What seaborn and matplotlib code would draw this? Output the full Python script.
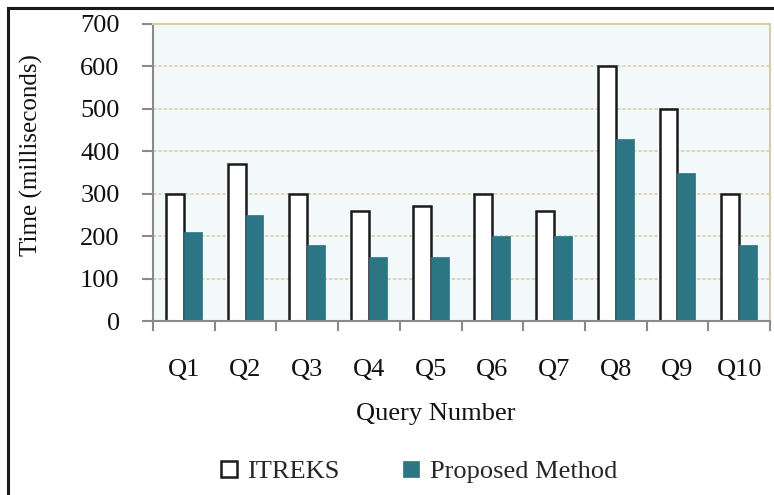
import matplotlib
matplotlib.use("Agg")
import matplotlib.pyplot as plt
from matplotlib.patches import Rectangle
from matplotlib.ticker import MultipleLocator, FixedLocator
import seaborn as sns
import pandas as pd

queries = ["Q1", "Q2", "Q3", "Q4", "Q5", "Q6", "Q7", "Q8", "Q9", "Q10"]
itreks = [300, 370, 300, 260, 270, 300, 260, 600, 500, 300]
proposed = [210, 250, 180, 150, 150, 200, 200, 430, 350, 180]
series = ["ITREKS", "Proposed Method"]

df = pd.DataFrame({
    "Query": queries * 2,
    "Time": itreks + proposed,
    "Method": [series[0]] * len(queries) + [series[1]] * len(queries),
})

sns.set_theme(style="white")
plt.rcParams["font.family"] = ["Liberation Serif", "DejaVu Serif"]

W, H = 774, 495
fig = plt.figure(figsize=(W / 100, H / 100), dpi=100)
ax = fig.add_axes([153 / W, 1 - 321 / H, 617 / W, 297 / H])
ax.set_facecolor("#F3F9FA")

teal = "#2B7585"
ink = "#1a1a1a"
sns.barplot(data=df, x="Query", y="Time", hue="Method", order=queries,
            hue_order=series, palette=["white", teal], width=0.58,
            gap=0, ax=ax, legend=True, saturation=1)

for bar in ax.patches:
    if abs(bar.get_facecolor()[0] - 1.0) < 1e-3 and bar.get_height() > 0:
        bar.set_edgecolor(ink)
        bar.set_linewidth(1.8)
    else:
        bar.set_edgecolor(teal)
        bar.set_linewidth(0.5)

ax.set_ylim(0, 700)
ax.set_xlim(-0.5, len(queries) - 0.5)
ax.yaxis.set_major_locator(MultipleLocator(100))
ax.grid(axis="y", color="#D6CFA6", linestyle=(0, (2, 1.2)), linewidth=1.2)
ax.set_axisbelow(True)

for side in ("top", "right"):
    ax.spines[side].set_visible(True)
    ax.spines[side].set_color("#D6CFA6")
    ax.spines[side].set_linewidth(1.5)
for side in ("left", "bottom"):
    ax.spines[side].set_color("#8a8a8a")
    ax.spines[side].set_linewidth(1.5)

fs = 19
ax.xaxis.set_minor_locator(FixedLocator([i - 0.5 for i in range(len(queries) + 1)]))
ax.tick_params(axis="x", which="major", length=0, pad=27, labelsize=fs,
               labelcolor="#111111")
ax.tick_params(axis="x", which="minor", bottom=True, length=7, width=1.5,
               color="#8a8a8a", direction="out")
ax.tick_params(axis="y", which="major", left=True, length=8, width=1.5,
               color="#8a8a8a", direction="out", pad=16, labelsize=fs,
               labelcolor="#111111")

ax.set_xlabel("Query Number", fontsize=fs, color="#111111")
ax.xaxis.set_label_coords((436 - 153) / 617, (321 - 403) / 297)
ax.set_ylabel("Time (milliseconds)", fontsize=18, color="#111111")
ax.yaxis.set_label_coords((43 - 153) / 617, (321 - 155) / 297)

handles, labels = ax.get_legend_handles_labels()
ax.get_legend().remove()
for h in handles:
    if abs(h.get_facecolor()[0] - 1.0) < 1e-3:
        h.set_edgecolor(ink)
        h.set_linewidth(1.8)
fig.legend(handles, labels, loc="center", bbox_to_anchor=(419 / W, 1 - 472 / H),
           ncol=2, frameon=False, fontsize=fs, handlelength=0.6,
           handleheight=0.6, handletextpad=0.4, columnspacing=2.4)

# outer frame around the figure
fig.patches.append(Rectangle((8 / W, -0.1), 1.2, 1 - 8 / H + 0.1,
                             transform=fig.transFigure, fill=False,
                             edgecolor=ink, linewidth=2.2, zorder=10))

fig.savefig("out.png", dpi=100)
